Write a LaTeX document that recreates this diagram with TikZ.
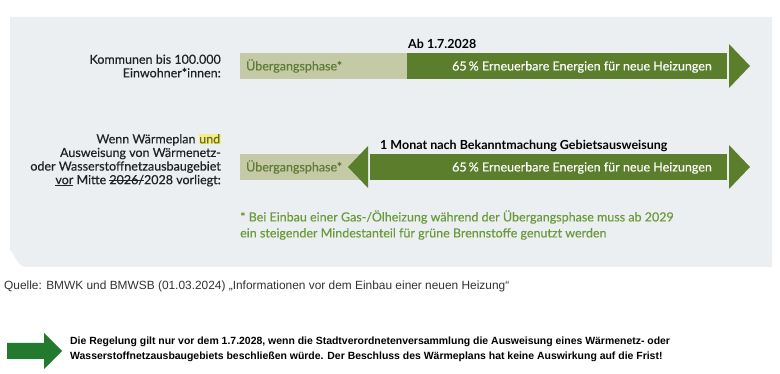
\documentclass[tikz,border=0pt]{standalone}
\usepackage{fontspec}
\setmainfont{Lato}
\newfontfamily\medfont{Lato}[FakeBold=0.35]
\newfontfamily\srcfont{Liberation Sans}
\newcommand\mystrk[1]{{\setbox0\hbox{#1}\rlap{\rule[0.3em]{\wd0}{0.07em}}\box0}}
\definecolor{panel}{HTML}{ECEFF2}
\definecolor{lightbar}{HTML}{C4CAA6}
\definecolor{darkbar}{HTML}{5A7E2B}
\definecolor{phasetxt}{HTML}{5F7D34}
\definecolor{foot}{HTML}{6A9A3A}
\definecolor{labeltxt}{HTML}{222222}
\definecolor{hl}{HTML}{F3EE84}
\definecolor{undtxt}{HTML}{6A6A20}
\definecolor{bigarrow}{HTML}{237A2E}
\tikzset{
  rowlabel/.style={anchor=east, align=right, text=labeltxt, font=\medfont\fontsize{12.5}{13.6}\selectfont, inner sep=0pt},
  phase/.style={anchor=west, text=phasetxt, font=\medfont\fontsize{12.5}{14}\selectfont, inner sep=0pt},
  ee/.style={anchor=east, text=white, font=\medfont\fontsize{12.5}{14}\selectfont, inner sep=0pt},
  datelbl/.style={anchor=west, text=black, font=\bfseries\fontsize{12.5}{14}\selectfont, inner sep=0pt},
  foottxt/.style={anchor=west, align=left, text=foot, font=\medfont\fontsize{12.5}{16}\selectfont, inner sep=0pt},
}
\begin{document}
\begin{tikzpicture}[x=1pt,y=-1pt]
\useasboundingbox (0,0) rectangle (780,374);
\fill[white] (0,0) rectangle (780,374);
% panel
\fill[panel] (10,17) -- (772,17) -- (772,267) -- (25,267) to[out=180,in=90] (10,252) -- cycle;
% row 1
\fill[lightbar] (240,53) rectangle (407,79);
\fill[darkbar] (407,53) rectangle (727,79);
\fill[darkbar] (729,44) -- (750,66) -- (729,88) -- cycle;
\node[rowlabel] (lab1) at (221,66) {Kommunen bis 100.000\\Einwohner*innen:};
\node[phase] (ph1) at (246,66) {Übergangsphase*};
\node[ee] (ee1) at (712,67) {65\,\% Erneuerbare Energien für neue Heizungen};
\node[datelbl] (d1) at (408,44) {Ab 1.7.2028};
% row 2
\fill[lightbar] (240,154) rectangle (360,180);
\fill[darkbar] (370,154) rectangle (727,180);
\fill[darkbar] (368,146) -- (348,167) -- (368,188) -- cycle;
\fill[darkbar] (729,145) -- (750,167) -- (729,189) -- cycle;
\node[rowlabel] (lab2) at (221,160) {Wenn Wärmeplan {\fboxsep=0.6pt\colorbox{hl}{\textcolor{undtxt}{und}}}\\Ausweisung von Wärmenetz-\\oder Wasserstoffnetzausbaugebiet\\\underline{vor} Mitte \mystrk{2026/}2028 vorliegt:};
\node[phase] (ph2) at (246,167) {Übergangsphase*};
\node[ee] (ee2) at (712,168) {65\,\% Erneuerbare Energien für neue Heizungen};
\node[datelbl] (d2) at (380,146) {1 Monat nach Bekanntmachung Gebietsausweisung};
\node[foottxt] (fn) at (240,225) {* Bei Einbau einer Gas-/Ölheizung während der Übergangsphase muss ab 2029\\ein steigender Mindestanteil für grüne Brennstoffe genutzt werden};
% source
\node[anchor=west, inner sep=0pt, text=black!80, font=\srcfont\fontsize{11.9}{13}\selectfont] (src) at (4,286) {Quelle: BMWK und BMWSB (01.03.2024) „Informationen vor dem Einbau einer neuen Heizung“};
% big arrow
\fill[bigarrow] (7,343) -- (44,343) -- (44,333) -- (62,351) -- (44,369) -- (44,359) -- (7,359) -- cycle;
\node[anchor=west, align=left, inner sep=0pt, text=black, font=\srcfont\bfseries\fontsize{10.45}{15}\selectfont] (note) at (70,349) {Die Regelung gilt nur vor dem 1.7.2028, wenn die Stadtverordnetenversammlung die Ausweisung eines Wärmenetz- oder\\Wasserstoffnetzausbaugebiets beschließen würde. Der Beschluss des Wärmeplans hat keine Auswirkung auf die Frist!};
\end{tikzpicture}
\end{document}
